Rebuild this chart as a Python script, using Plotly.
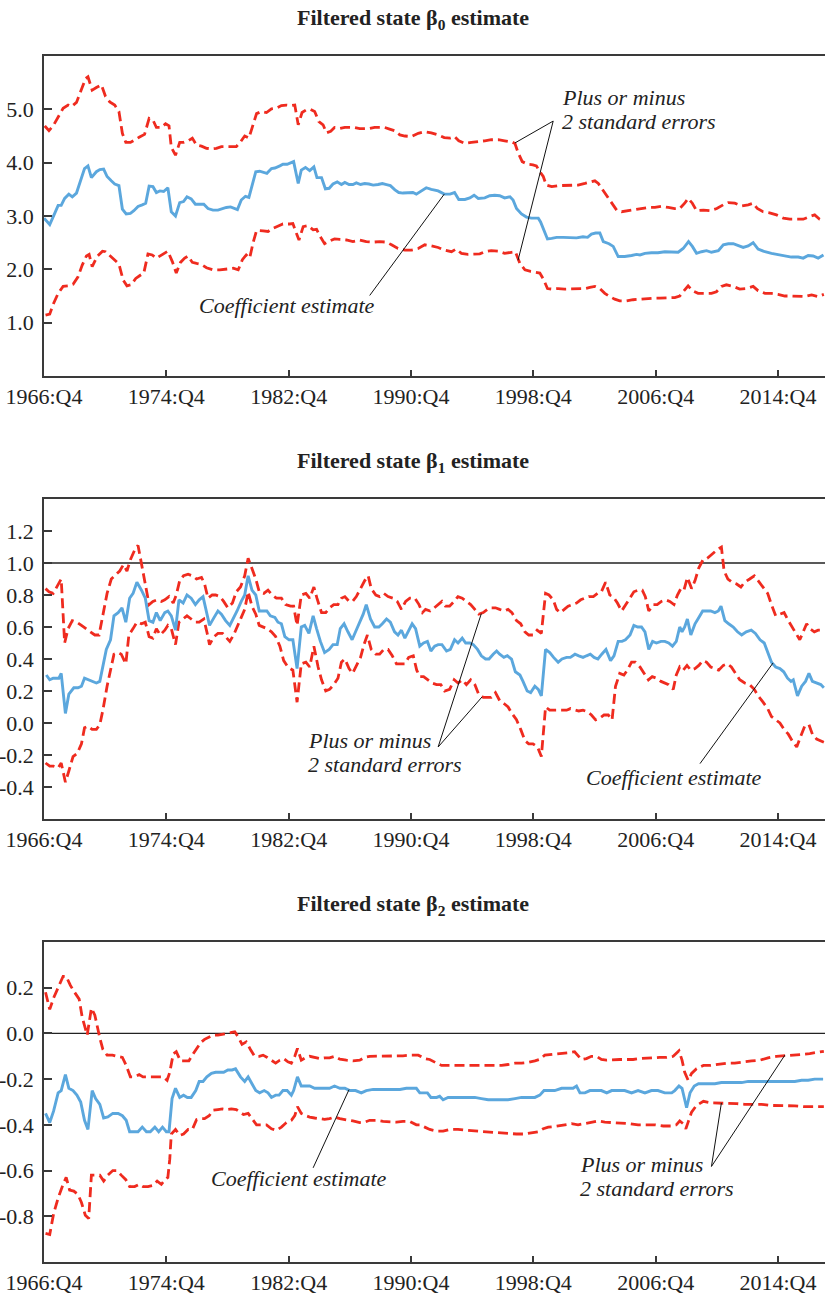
import plotly.graph_objects as go

# ---------------- data (quarter index t: 0 = 1966:Q4) ----------------
TICK_QUARTERS = [0, 32, 64, 96, 128, 160, 192]
TICK_LABELS = ["1966:Q4", "1974:Q4", "1982:Q4", "1990:Q4", "1998:Q4", "2006:Q4", "2014:Q4"]

B0_EST = [(0,2.96),(1.5,2.84),(2.8,3.05),(3.7,3.2),(4.5,3.2),(5.4,3.33),(6.5,3.41),(7.4,3.36),(8.5,3.43),(9.3,3.61),(10.6,3.89),(11.5,3.94),(12.4,3.72),(13.7,3.83),(14.6,3.87),(15.6,3.88),(16.5,3.74),(17.6,3.66),(18.5,3.6),(19.6,3.57),(20.5,3.13),(21.5,3.04),(22.6,3.05),(23.5,3.1),(24.6,3.18),(25.7,3.21),(26.6,3.24),(27.5,3.56),(28.5,3.55),(29.4,3.44),(30.3,3.47),(31.3,3.46),(32.4,3.53),(33.3,3.08),(34.4,3.0),(35.5,3.25),(36.5,3.27),(37.4,3.36),(38.5,3.32),(39.6,3.22),(40.7,3.22),(41.8,3.22),(42.9,3.14),(44.2,3.11),(45.5,3.11),(46.7,3.14),(47.7,3.16),(48.8,3.17),(49.9,3.14),(50.6,3.12),(51.6,3.3),(52.7,3.37),(53.6,3.35),(54.4,3.55),(55.4,3.83),(56.4,3.84),(57.3,3.82),(58.3,3.8),(59.5,3.89),(60.4,3.9),(61.7,3.94),(62.5,3.97),(63.6,3.97),(64.5,3.99),(65.3,4.02),(66.5,3.61),(67.3,3.86),(68.4,3.91),(69.5,3.85),(70.6,3.92),(71.4,3.72),(72.6,3.72),(73.6,3.51),(74.6,3.52),(75.6,3.6),(76.7,3.64),(77.8,3.59),(78.7,3.63),(79.8,3.59),(80.8,3.59),(81.7,3.62),(82.8,3.59),(83.9,3.61),(85,3.6),(86.1,3.58),(87.4,3.59),(88.5,3.61),(89.6,3.59),(90.6,3.57),(91.8,3.49),(92.8,3.44),(93.9,3.43),(95.2,3.44),(96.5,3.44),(97.4,3.41),(98.7,3.47),(100,3.53),(101.3,3.5),(103.1,3.47),(104.7,3.41),(106.2,3.41),(107.4,3.44),(108.5,3.31),(110.1,3.31),(111.4,3.34),(112.5,3.39),(113.6,3.33),(115.3,3.34),(116.6,3.38),(117.9,3.39),(119.2,3.38),(120.5,3.34),(121.9,3.36),(122.7,3.3),(123.6,3.14),(124.9,3.04),(126.2,2.98),(127.5,2.96),(129.3,2.96),(129.9,2.89),(130.8,2.71),(131.7,2.57),(132.8,2.58),(134.1,2.6),(135.8,2.6),(137.6,2.59),(139.3,2.59),(141,2.61),(142.2,2.6),(143.2,2.66),(144.3,2.68),(145.4,2.68),(146.3,2.52),(147.8,2.48),(148.9,2.43),(150.2,2.24),(151.9,2.24),(153.7,2.26),(155,2.28),(155.9,2.27),(157.2,2.3),(158.9,2.31),(160.6,2.31),(162.4,2.33),(164.2,2.32),(165.9,2.32),(167.2,2.39),(168.6,2.52),(169.6,2.43),(170.7,2.3),(172,2.33),(173.3,2.35),(174.6,2.32),(176.4,2.35),(177.7,2.46),(179,2.48),(180.3,2.48),(181.6,2.44),(182.9,2.41),(184.2,2.44),(185.5,2.5),(186.8,2.38),(188.6,2.33),(190.3,2.3),(192,2.28),(193.8,2.25),(195.5,2.23),(197.3,2.23),(198.6,2.21),(199.9,2.26),(201.2,2.25),(202.5,2.21),(203.9,2.27)]
B0_UP = [(0.2,4.69),(1.3,4.6),(2.4,4.69),(3.7,4.86),(5,5.02),(6.3,5.08),(7.2,5.05),(8.5,5.13),(9.8,5.39),(10.9,5.58),(11.5,5.61),(12.6,5.36),(13.7,5.41),(15,5.46),(16.1,5.24),(17.2,5.14),(18.5,5.08),(19.6,4.96),(20.5,4.55),(21.4,4.38),(22.6,4.38),(23.7,4.43),(25,4.48),(26.3,4.53),(27.5,4.83),(28.5,4.8),(29.4,4.66),(30.7,4.66),(31.8,4.73),(32.7,4.69),(33.3,4.29),(34.4,4.14),(35.5,4.38),(36.5,4.38),(37.7,4.41),(38.8,4.46),(39.9,4.33),(41.2,4.31),(42.5,4.27),(43.8,4.26),(45.1,4.27),(46.4,4.3),(47.7,4.3),(49,4.29),(50.3,4.3),(51.4,4.39),(52.5,4.5),(53.6,4.46),(54.5,4.68),(55.6,4.92),(56.9,4.96),(58.2,4.94),(59.5,5.01),(60.8,5.02),(62.1,5.07),(63.4,5.08),(64.7,5.07),(65.6,5.08),(66.5,4.71),(67.5,4.94),(68.6,4.99),(69.7,5.0),(70.8,4.96),(71.9,4.77),(73,4.71),(73.9,4.56),(75,4.59),(76,4.66),(77.4,4.64),(78.7,4.66),(80,4.66),(81.3,4.66),(82.6,4.64),(83.9,4.64),(85.2,4.64),(86.5,4.66),(87.8,4.66),(89.1,4.66),(90.4,4.63),(91.7,4.6),(93.1,4.52),(94.4,4.5),(96.1,4.49),(97.9,4.55),(99.6,4.58),(101.3,4.56),(103.1,4.52),(104.7,4.47),(106.2,4.46),(107.4,4.49),(108.5,4.41),(110.1,4.36),(111.8,4.38),(113.6,4.39),(115.3,4.41),(117,4.43),(118.8,4.43),(120.5,4.41),(122.3,4.39),(123.2,4.36),(124,4.19),(125.1,4.02),(126.5,3.97),(127.9,3.96),(128.8,3.94),(129.7,3.83),(130.6,3.74),(131.4,3.58),(132.8,3.55),(134.5,3.57),(136.2,3.57),(138,3.57),(139.7,3.58),(141.5,3.61),(142.8,3.64),(144.1,3.66),(145,3.61),(146,3.51),(147.1,3.38),(148.5,3.25),(149.8,3.11),(151.1,3.08),(152.8,3.1),(154.6,3.13),(156.3,3.14),(158.1,3.16),(159.8,3.16),(161.5,3.18),(163.3,3.16),(165,3.14),(166.3,3.14),(167.6,3.24),(168.5,3.33),(169.6,3.24),(170.7,3.1),(172.5,3.11),(174.2,3.1),(176,3.14),(177.7,3.21),(179,3.25),(180.7,3.24),(182.5,3.19),(184.2,3.21),(185.5,3.24),(186.6,3.14),(188.1,3.08),(189.8,3.06),(191.6,3.02),(193.4,2.96),(195.1,2.94),(196.8,2.94),(198.6,2.94),(200.3,2.99),(201.6,3.02),(202.9,2.94),(204,2.92)]
B0_LO = [(0.4,1.14),(1.5,1.16),(2.5,1.36),(3.7,1.55),(5,1.68),(6.3,1.69),(7.6,1.72),(8.9,1.86),(10,2.08),(11.1,2.25),(11.8,2.28),(12.6,2.05),(13.9,2.24),(15.3,2.34),(16.1,2.33),(17.4,2.25),(18.5,2.18),(19.6,2.1),(20.7,1.8),(21.7,1.69),(22.8,1.71),(24,1.83),(25,1.88),(26.1,1.93),(27.2,2.29),(28.3,2.27),(29.4,2.21),(30.7,2.27),(32.4,2.34),(33.6,2.14),(34.6,1.93),(35.7,2.13),(36.8,2.21),(37.7,2.25),(38.8,2.13),(39.9,2.11),(41.2,2.09),(42.5,2.03),(44.2,1.99),(46,1.99),(47.7,2.0),(49.5,2.02),(50.8,1.99),(51.9,2.18),(52.9,2.27),(53.8,2.21),(54.7,2.5),(55.6,2.73),(57.3,2.72),(58.6,2.71),(59.9,2.77),(61.2,2.81),(62.5,2.85),(64.3,2.85),(65.1,2.86),(66,2.68),(66.7,2.55),(67.8,2.8),(69.1,2.82),(70.4,2.74),(71.3,2.75),(72.3,2.61),(73.4,2.48),(74.7,2.53),(76,2.57),(77.4,2.56),(79.1,2.55),(80.8,2.52),(82.6,2.55),(84.3,2.52),(86.1,2.51),(87.8,2.52),(89.6,2.51),(90.9,2.46),(92.6,2.39),(94.4,2.36),(96.1,2.36),(97.9,2.39),(99.6,2.46),(101.3,2.44),(103.1,2.41),(104.8,2.36),(106.6,2.33),(107.8,2.38),(109.2,2.3),(110.9,2.28),(112.7,2.28),(114,2.29),(115.3,2.33),(117,2.35),(118.8,2.34),(120.5,2.3),(122.3,2.32),(123.3,2.33),(124.5,2.11),(125.8,1.99),(127.3,1.96),(128.8,1.94),(129.7,1.93),(130.6,1.82),(131.7,1.64),(132.8,1.63),(134.5,1.64),(136.2,1.63),(138,1.63),(139.7,1.63),(141.5,1.64),(142.8,1.66),(144.1,1.68),(145.4,1.64),(146.7,1.55),(148,1.49),(149.3,1.44),(150.6,1.41),(152.4,1.41),(154.1,1.43),(155.9,1.44),(157.6,1.46),(159.4,1.46),(161.1,1.46),(163.3,1.46),(165,1.47),(166.3,1.5),(167.2,1.58),(168.5,1.69),(169.6,1.6),(171.1,1.55),(172.8,1.55),(174.6,1.55),(175.9,1.58),(177.2,1.68),(178.5,1.71),(180.3,1.68),(182,1.63),(183.7,1.64),(185.5,1.68),(186.8,1.6),(188.6,1.55),(190.3,1.55),(192,1.53),(193.8,1.5),(195.5,1.5),(197.3,1.49),(199,1.49),(200.8,1.52),(202.5,1.49),(204,1.53)]

B1_EST = [(0.6,0.3),(1.5,0.27),(2.4,0.28),(3.2,0.28),(3.9,0.28),(4.5,0.31),(5.6,0.06),(6.5,0.18),(7.8,0.22),(8.9,0.22),(9.8,0.23),(10.6,0.28),(11.8,0.27),(12.8,0.26),(13.7,0.25),(14.6,0.26),(15.4,0.35),(16.3,0.46),(17.4,0.52),(18.3,0.67),(19.4,0.69),(20.4,0.72),(21.4,0.63),(22.4,0.78),(23.3,0.81),(24.3,0.88),(25.5,0.83),(26.5,0.78),(27.5,0.64),(28.5,0.63),(29.4,0.69),(30.4,0.64),(31.6,0.69),(32.4,0.7),(33.3,0.67),(34.4,0.58),(35.3,0.77),(36.4,0.75),(37.4,0.8),(38.5,0.78),(39.6,0.74),(40.6,0.77),(41.6,0.79),(42.5,0.69),(43.3,0.61),(44.5,0.66),(45.5,0.7),(46.4,0.68),(47.5,0.64),(48.6,0.61),(49.5,0.65),(50.5,0.7),(51.6,0.76),(52.5,0.8),(53.4,0.92),(54.4,0.83),(55.4,0.8),(56.3,0.7),(57.3,0.7),(58.3,0.7),(59.2,0.67),(60.4,0.66),(61.2,0.63),(62.1,0.62),(63,0.54),(64.1,0.52),(65.1,0.52),(66.2,0.34),(67.3,0.6),(68.2,0.61),(69.3,0.56),(70.4,0.67),(71.3,0.59),(72.3,0.51),(73.4,0.44),(74.6,0.46),(75.6,0.49),(76.7,0.49),(77.5,0.59),(78.5,0.62),(79.5,0.57),(80.6,0.52),(81.5,0.57),(82.6,0.63),(83.5,0.68),(84.3,0.74),(85.4,0.65),(86.5,0.6),(87.6,0.6),(88.5,0.62),(89.6,0.65),(90.6,0.63),(91.7,0.57),(92.6,0.55),(93.5,0.58),(94.4,0.53),(95.3,0.57),(96.3,0.62),(97.2,0.59),(98.3,0.48),(99.3,0.5),(100.3,0.51),(101.2,0.45),(102.2,0.48),(103.1,0.49),(104.1,0.49),(105.3,0.45),(106.3,0.46),(107.4,0.52),(108.3,0.5),(109.4,0.53),(110.3,0.5),(111.4,0.5),(112.3,0.49),(113.4,0.46),(114.4,0.42),(115.5,0.4),(116.4,0.4),(117.5,0.43),(118.4,0.45),(119.2,0.43),(120.3,0.41),(121.2,0.42),(122.3,0.4),(123.3,0.32),(124.5,0.3),(125.3,0.26),(126.4,0.2),(127.3,0.19),(128.4,0.23),(129.3,0.21),(130.1,0.17),(131.2,0.46),(132.3,0.44),(133.3,0.41),(134.5,0.38),(135.5,0.4),(136.7,0.41),(137.7,0.41),(138.9,0.43),(139.9,0.42),(141,0.41),(141.9,0.42),(142.9,0.43),(143.9,0.41),(144.9,0.4),(145.9,0.43),(147,0.46),(148.2,0.39),(149.1,0.42),(150.2,0.51),(151.2,0.51),(152.1,0.52),(153.3,0.55),(154.3,0.61),(155.3,0.6),(156.3,0.6),(157.2,0.57),(158.2,0.46),(159.2,0.51),(160.2,0.5),(161.4,0.51),(162.4,0.51),(163.4,0.5),(164.4,0.48),(165.4,0.51),(166.3,0.6),(166.9,0.57),(167.6,0.6),(168.3,0.65),(169.2,0.55),(170.3,0.62),(171.3,0.66),(172.3,0.7),(173.3,0.7),(174.4,0.7),(175.5,0.69),(176.4,0.7),(177.1,0.73),(178.1,0.64),(179.1,0.62),(180.3,0.6),(181.4,0.57),(182.5,0.55),(183.7,0.57),(185,0.58),(186.1,0.56),(187.3,0.52),(188.4,0.5),(189.3,0.44),(190.3,0.38),(191.4,0.35),(192.5,0.34),(193.5,0.32),(194.5,0.28),(195.4,0.26),(196,0.27),(197.1,0.17),(198.2,0.23),(199.2,0.26),(200.1,0.31),(201,0.26),(202.1,0.25),(203.2,0.24),(204,0.22)]
B1_UP = [(0.4,0.84),(1.3,0.82),(2.4,0.81),(3.4,0.85),(4.5,0.9),(5.4,0.5),(6.3,0.59),(7.4,0.64),(8.6,0.63),(9.8,0.61),(10.9,0.59),(12.1,0.57),(13.3,0.55),(14.4,0.55),(15.4,0.68),(16.5,0.81),(17.6,0.9),(18.8,0.93),(19.8,0.95),(20.8,0.99),(21.7,0.95),(22.6,1.02),(23.7,1.08),(24.6,1.11),(25.5,0.99),(26.3,0.89),(27.5,0.74),(28.5,0.76),(29.6,0.77),(30.7,0.76),(31.6,0.77),(32.7,0.79),(33.8,0.75),(34.6,0.8),(35.5,0.89),(36.5,0.92),(37.7,0.93),(38.8,0.92),(39.9,0.9),(41.2,0.91),(42,0.87),(42.9,0.78),(44,0.8),(44.9,0.8),(46,0.79),(47,0.76),(48.1,0.72),(49.3,0.75),(50.3,0.82),(51.4,0.85),(52.5,0.92),(53.4,1.03),(54.4,0.96),(55.4,0.9),(56.3,0.82),(57.5,0.81),(58.6,0.83),(59.7,0.8),(60.8,0.78),(62.1,0.78),(63.2,0.74),(64.5,0.73),(65.3,0.73),(66.2,0.61),(67.3,0.8),(68.5,0.81),(69.5,0.78),(70.6,0.85),(71.4,0.78),(72.6,0.69),(73.7,0.69),(74.7,0.72),(75.8,0.74),(76.9,0.74),(77.8,0.78),(78.7,0.79),(79.8,0.76),(80.7,0.76),(81.7,0.79),(82.8,0.84),(83.9,0.89),(84.8,0.92),(85.6,0.84),(86.8,0.8),(87.8,0.79),(88.9,0.81),(90,0.79),(91.3,0.78),(92.4,0.76),(93.5,0.71),(94.6,0.76),(95.7,0.78),(97,0.78),(98.1,0.74),(99,0.69),(99.8,0.71),(101,0.7),(102.1,0.72),(103.1,0.74),(104.1,0.76),(105,0.73),(106.1,0.73),(107.3,0.76),(108.3,0.79),(109.4,0.78),(110.5,0.76),(111.6,0.74),(112.7,0.71),(113.7,0.68),(114.9,0.69),(116,0.71),(117,0.72),(118.1,0.72),(119.2,0.71),(120.4,0.7),(121.4,0.71),(122.4,0.69),(123.6,0.64),(124.7,0.62),(125.8,0.57),(126.8,0.55),(127.9,0.55),(129,0.58),(130.1,0.56),(131.2,0.81),(132.1,0.8),(133.2,0.77),(134.1,0.71),(135,0.69),(136.1,0.71),(137.1,0.73),(138.2,0.74),(139.3,0.75),(140.4,0.77),(141.5,0.78),(142.5,0.79),(143.7,0.79),(144.8,0.81),(145.8,0.82),(146.9,0.88),(148,0.8),(148.9,0.79),(150,0.75),(151.1,0.7),(152.2,0.74),(153.3,0.78),(154.3,0.82),(155.4,0.83),(156.5,0.83),(157.3,0.79),(158.2,0.7),(159.4,0.74),(160.4,0.74),(161.5,0.76),(162.6,0.77),(163.7,0.76),(164.8,0.74),(165.7,0.8),(166.6,0.84),(167.4,0.83),(168.3,0.91),(169.4,0.84),(170.3,0.89),(171.3,0.97),(172.4,1.02),(173.5,1.03),(174.4,1.05),(175.5,1.07),(176.5,1.09),(177.2,1.1),(177.9,0.95),(178.9,0.9),(180,0.88),(181.1,0.87),(182.3,0.85),(183.3,0.88),(184.6,0.9),(185.8,0.92),(186.8,0.89),(188.1,0.85),(189.3,0.81),(190.3,0.74),(191.4,0.67),(192.5,0.68),(193.6,0.69),(194.7,0.64),(195.7,0.6),(196.9,0.55),(197.7,0.52),(198.6,0.57),(199.5,0.62),(200.3,0.59),(201.5,0.57),(202.5,0.58),(204,0.58)]
B1_LO = [(0.4,-0.25),(1.5,-0.27),(2.5,-0.27),(3.7,-0.28),(4.5,-0.25),(5.6,-0.37),(6.5,-0.3),(7.6,-0.21),(8.7,-0.19),(9.8,-0.13),(10.6,-0.03),(11.5,-0.02),(12.6,-0.04),(13.7,-0.04),(14.6,-0.01),(15.4,0.08),(16.5,0.23),(17.4,0.32),(18.3,0.43),(19.4,0.44),(20.2,0.43),(21.4,0.37),(22.2,0.55),(23.3,0.59),(24.3,0.63),(25.5,0.62),(26.5,0.63),(27.5,0.54),(28.5,0.53),(29.4,0.59),(30.4,0.55),(31.6,0.58),(32.4,0.61),(33.3,0.59),(34.4,0.49),(35.3,0.63),(36.4,0.65),(37.4,0.67),(38.5,0.65),(39.6,0.63),(40.6,0.63),(41.8,0.65),(42.6,0.57),(43.3,0.49),(44.5,0.54),(45.5,0.56),(46.7,0.56),(47.7,0.53),(48.6,0.51),(49.6,0.55),(50.6,0.6),(51.6,0.66),(52.5,0.71),(53.4,0.82),(54.4,0.73),(55.4,0.68),(56.3,0.61),(57.3,0.6),(58.3,0.59),(59.5,0.57),(60.6,0.54),(61.7,0.48),(62.7,0.39),(63.8,0.35),(65.1,0.33),(66.2,0.13),(67.3,0.37),(68.5,0.38),(69.5,0.35),(70.6,0.48),(71.7,0.35),(72.6,0.27),(73.7,0.2),(74.7,0.21),(75.8,0.24),(76.9,0.28),(77.8,0.38),(78.7,0.4),(79.8,0.34),(80.7,0.31),(81.7,0.36),(82.8,0.41),(83.7,0.49),(84.6,0.55),(85.6,0.46),(86.8,0.43),(87.8,0.43),(88.9,0.46),(90,0.46),(91.1,0.42),(92.2,0.37),(93.3,0.37),(94.4,0.37),(95.4,0.41),(96.6,0.42),(97.5,0.33),(98.3,0.29),(99.3,0.29),(100.5,0.27),(101.5,0.25),(102.7,0.24),(103.8,0.24),(104.8,0.2),(106.1,0.21),(107.3,0.27),(108.3,0.25),(109.4,0.27),(110.5,0.24),(111.6,0.27),(112.7,0.24),(113.7,0.18),(114.9,0.16),(116,0.16),(117,0.16),(118.1,0.19),(119.2,0.14),(120.4,0.12),(121.4,0.1),(122.4,0.06),(123.6,0.02),(124.7,-0.04),(125.8,-0.11),(126.8,-0.13),(127.9,-0.13),(129.1,-0.15),(130.1,-0.21),(131.2,0.1),(132.3,0.08),(133.3,0.08),(134.5,0.08),(135.5,0.08),(136.7,0.08),(137.7,0.09),(138.9,0.08),(139.9,0.075),(141,0.08),(142.2,0.07),(143.2,0.05),(144.3,0.02),(145.4,0.03),(146.5,0.05),(147.6,0.05),(148.6,0.02),(149.5,0.23),(150.6,0.31),(151.7,0.3),(152.6,0.33),(153.7,0.38),(154.7,0.38),(155.9,0.35),(157,0.31),(158.1,0.27),(159.1,0.29),(160.2,0.28),(161.4,0.26),(162.4,0.25),(163.4,0.24),(164.6,0.21),(165.4,0.3),(166.3,0.35),(167.2,0.33),(168.2,0.36),(169.2,0.33),(170.3,0.34),(171.3,0.36),(172.3,0.39),(173.3,0.38),(174.4,0.35),(175.5,0.34),(176.5,0.33),(177.7,0.36),(178.8,0.37),(179.8,0.35),(180.9,0.31),(182,0.27),(183.3,0.25),(184.6,0.24),(185.8,0.21),(186.8,0.17),(188.1,0.13),(189.3,0.09),(190.3,0.04),(191.4,0.02),(192.5,0.0),(193.6,-0.04),(194.7,-0.07),(195.7,-0.11),(196.9,-0.15),(198,-0.08),(199,-0.02),(200.1,-0.01),(201,-0.07),(202.1,-0.1),(204,-0.12)]

B2_EST = [(0.4,-0.35),(1.5,-0.39),(2.5,-0.34),(3.7,-0.26),(4.5,-0.25),(5.6,-0.18),(6.5,-0.24),(7.6,-0.25),(8.6,-0.27),(9.6,-0.3),(10.6,-0.38),(11.5,-0.42),(12.6,-0.25),(13.5,-0.285),(14.6,-0.31),(15.6,-0.37),(16.7,-0.365),(18,-0.35),(19.4,-0.35),(20.5,-0.36),(21.5,-0.38),(22.4,-0.43),(23.5,-0.43),(24.6,-0.43),(25.7,-0.41),(26.8,-0.43),(27.8,-0.43),(29,-0.41),(30,-0.43),(31,-0.41),(32,-0.43),(32.7,-0.43),(33.5,-0.285),(34.4,-0.24),(35.5,-0.28),(36.5,-0.27),(37.5,-0.28),(38.5,-0.28),(39.7,-0.25),(40.6,-0.21),(41.6,-0.21),(42.6,-0.19),(43.8,-0.175),(44.9,-0.17),(46,-0.17),(47,-0.17),(48.1,-0.16),(49.2,-0.16),(50.1,-0.155),(51.4,-0.19),(52.5,-0.21),(53.4,-0.19),(54.4,-0.22),(55.4,-0.25),(56.4,-0.26),(57.6,-0.25),(58.6,-0.26),(59.5,-0.28),(60.6,-0.27),(61.5,-0.27),(62.5,-0.25),(63.6,-0.25),(64.7,-0.27),(65.3,-0.25),(66.3,-0.19),(67.3,-0.23),(68.5,-0.23),(69.5,-0.23),(70.8,-0.24),(72.1,-0.24),(73.4,-0.24),(74.7,-0.24),(76,-0.23),(77.4,-0.24),(78.7,-0.24),(80,-0.25),(81.5,-0.25),(83,-0.26),(84.3,-0.25),(86.1,-0.245),(87.8,-0.245),(89.6,-0.245),(91.3,-0.245),(93.1,-0.245),(94.8,-0.24),(96.5,-0.24),(97.4,-0.24),(98.3,-0.26),(99.2,-0.26),(100.3,-0.26),(101.2,-0.28),(102.7,-0.28),(103.5,-0.275),(104.4,-0.29),(105.7,-0.28),(107.4,-0.28),(109.2,-0.28),(110.9,-0.28),(112.7,-0.28),(114.4,-0.285),(116.2,-0.29),(117.9,-0.29),(119.7,-0.29),(121.4,-0.29),(123.2,-0.285),(124.9,-0.28),(126.6,-0.28),(128.4,-0.28),(129.7,-0.27),(130.8,-0.25),(131.9,-0.25),(133.6,-0.25),(135.4,-0.24),(137.1,-0.24),(138.4,-0.24),(139.3,-0.23),(140.2,-0.26),(141.5,-0.26),(142.8,-0.25),(144.5,-0.25),(145.8,-0.25),(147.2,-0.26),(148.5,-0.25),(150.2,-0.25),(151.9,-0.25),(153.7,-0.26),(155.4,-0.25),(157.2,-0.26),(158.9,-0.25),(160.6,-0.25),(162.4,-0.26),(164.2,-0.26),(165,-0.25),(166.1,-0.23),(166.9,-0.24),(168.1,-0.325),(169,-0.26),(170.1,-0.23),(171.2,-0.22),(172.5,-0.22),(173.7,-0.22),(175.5,-0.22),(177.2,-0.215),(179,-0.215),(180.7,-0.215),(182.5,-0.215),(184.2,-0.21),(186,-0.21),(187.7,-0.21),(189.4,-0.21),(191.2,-0.21),(192.9,-0.21),(194.7,-0.21),(196.4,-0.21),(198.2,-0.205),(199.9,-0.205),(201.6,-0.2),(203.8,-0.2)]
B2_UP = [(0.4,0.18),(1.5,0.105),(2.5,0.155),(3.7,0.2),(5,0.25),(5.8,0.25),(6.9,0.21),(8,0.18),(9.2,0.15),(10,0.07),(11.3,-0.007),(12.4,0.11),(13.3,0.08),(14.6,-0.02),(15.4,-0.07),(16.5,-0.095),(17.9,-0.095),(19.1,-0.1),(20.5,-0.105),(21.5,-0.14),(22.6,-0.19),(23.7,-0.19),(24.9,-0.18),(25.9,-0.19),(27.2,-0.19),(28.5,-0.19),(29.8,-0.19),(31.1,-0.19),(32.2,-0.205),(32.9,-0.17),(33.8,-0.09),(34.6,-0.08),(35.7,-0.12),(36.8,-0.12),(37.9,-0.12),(38.8,-0.095),(39.9,-0.065),(41,-0.04),(42,-0.026),(43.2,-0.015),(44.2,-0.007),(45.5,-0.007),(46.7,-0.004),(47.7,-0.003),(48.8,0.003),(49.9,0.007),(50.8,-0.015),(51.8,-0.048),(52.9,-0.037),(54,-0.07),(55.1,-0.1),(56.3,-0.1),(57.3,-0.095),(58.4,-0.105),(59.5,-0.117),(60.6,-0.13),(61.7,-0.117),(62.7,-0.11),(63.8,-0.124),(64.7,-0.13),(65.6,-0.1),(66.3,-0.066),(67.3,-0.117),(68.5,-0.105),(69.5,-0.1),(70.8,-0.105),(72.1,-0.11),(73.4,-0.107),(74.7,-0.107),(76,-0.1),(77.4,-0.113),(79.1,-0.117),(80.8,-0.12),(82.6,-0.117),(83.9,-0.105),(85.2,-0.1),(87,-0.1),(88.7,-0.1),(90.4,-0.098),(92.2,-0.1),(93.9,-0.098),(95.7,-0.095),(97.9,-0.095),(99.6,-0.11),(100.9,-0.114),(102.7,-0.13),(104,-0.14),(105.7,-0.14),(107.4,-0.14),(109.2,-0.14),(110.9,-0.143),(112.7,-0.14),(114.4,-0.143),(116.2,-0.14),(117.9,-0.14),(119.7,-0.14),(121.4,-0.136),(123.2,-0.13),(124.9,-0.13),(126.6,-0.127),(128.4,-0.12),(129.7,-0.113),(131,-0.095),(132.7,-0.092),(134.5,-0.088),(136.2,-0.088),(137.9,-0.083),(138.8,-0.08),(139.7,-0.095),(140.6,-0.114),(141.9,-0.11),(143.2,-0.1),(144.5,-0.1),(145.8,-0.114),(147.1,-0.117),(148.9,-0.114),(150.6,-0.114),(152.4,-0.114),(154.1,-0.114),(155.9,-0.11),(157.6,-0.11),(159.4,-0.107),(161.1,-0.105),(162.9,-0.105),(164.6,-0.1),(165.5,-0.088),(166.1,-0.076),(166.9,-0.117),(167.6,-0.17),(168.5,-0.205),(169.4,-0.175),(170.7,-0.154),(172.5,-0.14),(174.2,-0.14),(176.4,-0.135),(178.6,-0.13),(180.7,-0.13),(182.9,-0.124),(185.1,-0.12),(187.3,-0.117),(189.4,-0.107),(191.6,-0.1),(193.8,-0.098),(196,-0.095),(198.2,-0.092),(200.3,-0.088),(202.5,-0.083),(204,-0.078)]
B2_LO = [(0.4,-0.875),(1.5,-0.88),(2.5,-0.79),(3.7,-0.72),(5,-0.66),(5.8,-0.63),(6.7,-0.685),(7.8,-0.69),(8.9,-0.705),(9.8,-0.74),(10.8,-0.795),(11.7,-0.81),(12.4,-0.62),(13.5,-0.62),(14.6,-0.62),(15.6,-0.646),(16.7,-0.62),(18,-0.6),(19.1,-0.6),(20.2,-0.62),(21.4,-0.64),(22.4,-0.67),(23.7,-0.67),(24.9,-0.66),(25.9,-0.67),(27.2,-0.67),(28.5,-0.665),(29.6,-0.646),(30.7,-0.66),(31.7,-0.64),(32.4,-0.63),(32.9,-0.55),(33.3,-0.44),(34.4,-0.42),(35.5,-0.446),(36.5,-0.44),(37.7,-0.42),(38.8,-0.42),(39.9,-0.377),(41,-0.373),(42,-0.373),(43.2,-0.36),(44.2,-0.336),(45.5,-0.333),(46.7,-0.33),(47.7,-0.333),(49,-0.33),(50.3,-0.333),(51.2,-0.344),(52.2,-0.355),(53.4,-0.35),(54.4,-0.373),(55.6,-0.4),(56.9,-0.4),(58.2,-0.4),(59.5,-0.417),(60.8,-0.424),(62.1,-0.41),(63.4,-0.39),(64.7,-0.38),(65.6,-0.36),(66.3,-0.32),(67.3,-0.35),(68.5,-0.36),(69.5,-0.366),(70.8,-0.37),(72.1,-0.373),(73.4,-0.376),(74.7,-0.373),(76,-0.366),(77.4,-0.373),(79.1,-0.377),(80.8,-0.383),(82.6,-0.39),(83.9,-0.388),(85.2,-0.38),(87,-0.38),(88.7,-0.385),(90.4,-0.388),(92.2,-0.388),(93.9,-0.385),(95.7,-0.385),(97.4,-0.4),(98.3,-0.4),(99.6,-0.41),(100.9,-0.42),(102.7,-0.427),(104.4,-0.427),(106.1,-0.42),(108.3,-0.42),(110.5,-0.424),(112.7,-0.427),(114.9,-0.43),(117,-0.434),(119.2,-0.436),(121.4,-0.44),(123.6,-0.44),(125.8,-0.44),(127.5,-0.436),(129.3,-0.43),(130.6,-0.417),(131.9,-0.41),(133.6,-0.407),(135.8,-0.4),(138,-0.395),(139.7,-0.4),(141.5,-0.395),(143.2,-0.388),(144.9,-0.383),(146.7,-0.388),(148.9,-0.39),(151.1,-0.39),(153.3,-0.395),(155.4,-0.4),(157.6,-0.4),(159.8,-0.4),(162,-0.405),(164.2,-0.405),(165.4,-0.4),(166.3,-0.383),(167.2,-0.395),(167.9,-0.417),(168.5,-0.388),(169.4,-0.344),(170.7,-0.315),(172.5,-0.297),(174.6,-0.304),(176.8,-0.304),(179,-0.307),(181.2,-0.307),(183.3,-0.31),(185.5,-0.31),(187.7,-0.31),(189.9,-0.315),(192,-0.315),(194.2,-0.317),(196.4,-0.317),(198.6,-0.32),(200.8,-0.32),(204,-0.32)]

PANEL_TITLES = ["Filtered state β<sub>0</sub> estimate",
                "Filtered state β<sub>1</sub> estimate",
                "Filtered state β<sub>2</sub> estimate"]
Y_RANGES = [[0, 6], [-0.6, 1.4], [-1.0, 0.4]]
Y_TICKS = [[1.0, 2.0, 3.0, 4.0, 5.0],
           [-0.4, -0.2, 0.0, 0.2, 0.4, 0.6, 0.8, 1.0, 1.2],
           [-0.8, -0.6, -0.4, -0.2, 0.0, 0.2]]
REF_LINES = [None, 1.0, 0.0]

# ---------------- styling ----------------
W, H = 825, 1294
ML = 44
BLUE = "#5ba7dd"
RED = "#ef2b1f"
AX = "#3a3a3a"
TXT = "#222222"
FONT = "Liberation Serif"
X_MAX = 204.3
# panel pixel extents (top, bottom)
PANELS_PX = [(56, 376), (499, 819), (942, 1262)]
TITLE_PX = [19, 462, 905]


def py(v):
    return (H - v) / H


fig = go.Figure()
series = [(B0_EST, B0_UP, B0_LO), (B1_EST, B1_UP, B1_LO), (B2_EST, B2_UP, B2_LO)]
for i, (est, up, lo) in enumerate(series):
    xa = "x" if i == 0 else f"x{i+1}"
    ya = "y" if i == 0 else f"y{i+1}"
    for band in (up, lo):
        fig.add_trace(go.Scatter(x=[p[0] for p in band], y=[p[1] for p in band], mode="lines",
                                 line=dict(color=RED, width=2.8, dash="10px,5px"),
                                 xaxis=xa, yaxis=ya, hoverinfo="skip"))
    fig.add_trace(go.Scatter(x=[p[0] for p in est], y=[p[1] for p in est], mode="lines",
                             line=dict(color=BLUE, width=2.9),
                             xaxis=xa, yaxis=ya, hoverinfo="skip"))

layout = dict(width=W, height=H, margin=dict(l=ML, r=0, t=0, b=0, autoexpand=False),
              plot_bgcolor="white", paper_bgcolor="white", showlegend=False,
              font=dict(family=FONT, size=22, color=TXT))
for i in range(3):
    top, bot = PANELS_PX[i]
    xk = "xaxis" if i == 0 else f"xaxis{i+1}"
    yk = "yaxis" if i == 0 else f"yaxis{i+1}"
    ya = "y" if i == 0 else f"y{i+1}"
    xa = "x" if i == 0 else f"x{i+1}"
    layout[xk] = dict(domain=[0, 1], anchor=ya, range=[0, X_MAX], automargin=False,
                      tickmode="array", tickvals=TICK_QUARTERS, ticktext=TICK_LABELS,
                      ticks="inside", ticklen=6, tickwidth=1.5, tickcolor=AX,
                      showline=True, linecolor=AX, linewidth=1.6, mirror=True,
                      showgrid=False, zeroline=False,
                      tickfont=dict(family=FONT, size=22, color=TXT))
    layout[yk] = dict(domain=[py(bot), py(top)], anchor=xa, range=Y_RANGES[i], automargin=False,
                      tickmode="array", tickvals=Y_TICKS[i],
                      ticktext=[f"{v:.1f}" for v in Y_TICKS[i]],
                      ticks="inside", ticklen=8, tickwidth=1.5, tickcolor=AX,
                      showline=True, linecolor=AX, linewidth=1.6,
                      showgrid=False, zeroline=False, ticklabelstandoff=4,
                      tickfont=dict(family=FONT, size=22, color=TXT))
fig.update_layout(**layout)

shapes = []
annotations = []
for i in range(3):
    xa = "x" if i == 0 else f"x{i+1}"
    ya = "y" if i == 0 else f"y{i+1}"
    if REF_LINES[i] is not None:
        shapes.append(dict(type="line", xref=f"{xa} domain", yref=ya, x0=0, x1=1,
                           y0=REF_LINES[i], y1=REF_LINES[i], line=dict(color="#222", width=1.3),
                           layer="below"))
    annotations.append(dict(text=f"<b>{PANEL_TITLES[i]}</b>", xref="paper", yref="paper",
                            x=(W / 2 - ML) / (W - ML), y=py(TITLE_PX[i]),
                            xanchor="center", yanchor="middle", showarrow=False,
                            font=dict(family=FONT, size=22, color=TXT)))


def label(text, xa, ya, x, y, anchor="left"):
    annotations.append(dict(text=f"<i>{text}</i>", xref=xa, yref=ya, x=x, y=y,
                            xanchor=anchor, yanchor="middle", showarrow=False,
                            font=dict(family=FONT, size=22, color=TXT)))


def leader(xa, ya, x0, y0, x1, y1):
    shapes.append(dict(type="line", xref=xa, yref=ya, x0=x0, y0=y0, x1=x1, y1=y1,
                       line=dict(color="#111", width=1)))


# panel 1
label("Plus or minus", "x", "y", 135.1, 5.22)
label("2 standard errors", "x", "y", 135.1, 4.78)
leader("x", "y", 133.2, 4.78, 123.2, 4.37)
leader("x", "y", 133.2, 4.78, 124.0, 2.17)
label("Coefficient estimate", "x", "y", 63.5, 1.33, "center")
leader("x", "y", 85.2, 1.51, 104.7, 3.41)
# panel 2
label("Plus or minus", "x2", "y2", 68.5, -0.108)
label("2 standard errors", "x2", "y2", 68.5, -0.258)
leader("x2", "y2", 103.1, -0.15, 114.4, 0.684)
leader("x2", "y2", 103.1, -0.15, 114.6, 0.163)
label("Coefficient estimate", "x2", "y2", 164.7, -0.3375, "center")
leader("x2", "y2", 171.6, -0.254, 190.7, 0.375)
# panel 3
label("Coefficient estimate", "x3", "y3", 66.8, -0.636, "center")
leader("x3", "y3", 70.4, -0.588, 79.8, -0.2456)
label("Plus or minus", "x3", "y3", 139.7, -0.5746)
label("2 standard errors", "x3", "y3", 139.7, -0.6798)
leader("x3", "y3", 174.6, -0.582, 177.2, -0.304)
leader("x3", "y3", 174.6, -0.582, 193.8, -0.095)

fig.update_layout(shapes=shapes, annotations=annotations)
fig.write_html("out.html", config={"displayModeBar": False})
